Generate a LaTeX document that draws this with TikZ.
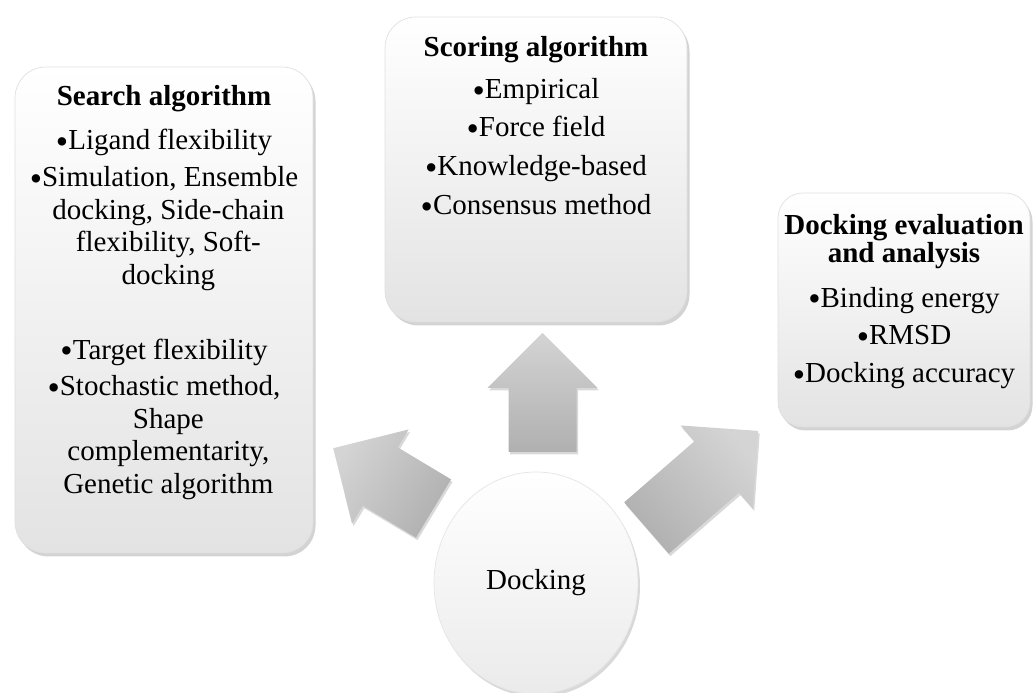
\documentclass[tikz,border=0pt]{standalone}
\usepackage{fontspec}
\setmainfont{Liberation Serif}
\usetikzlibrary{positioning,shadows,shapes.geometric}
\newcommand{\bul}{\raisebox{-2.2pt}{\fontsize{20}{18.5}\selectfont\textbullet}}
\tikzset{
		box/.style={
			rectangle,
			rounded corners=0.62cm,
			draw=black!12,
			top color=white,
			bottom color=black!11,
			drop shadow={opacity=0.35, shadow xshift=0.05cm, shadow yshift=-0.07cm},
			inner sep=0pt},
		boxtext/.style={
			align=center,
			inner sep=0pt,
			font=\fontsize{16.5}{18.5}\selectfont},
		docknode/.style={
			ellipse,
			minimum width=4.08cm,
			minimum height=4.44cm,
			draw=black!10,
			top color=white,
			bottom color=black!8,
			drop shadow={opacity=0.3, shadow xshift=0.04cm, shadow yshift=-0.06cm},
			font=\fontsize{16.5}{18.5}\selectfont},
		blockarr/.style={
			top color=black!17,
			bottom color=black!31,
			draw=none,
			drop shadow={opacity=0.3, shadow xshift=0.03cm, shadow yshift=-0.05cm}},
	}
\begin{document}
\begin{tikzpicture}
	\useasboundingbox (0,0) rectangle (20.66,13.86);
	
	%% boxes
	\node[box, minimum width=5.96cm, minimum height=9.72cm] (search) at (3.28,7.66) {};
	\node[box, minimum width=6.04cm, minimum height=6.10cm] (scoring) at (10.72,10.47) {};
	\node[box, minimum width=5.04cm, minimum height=4.68cm, rounded corners=0.5cm] (evaluation) at (18.08,7.66) {};
	
	\node[boxtext, below=0.36cm of search.north] (searchtxt) {\textbf{Search algorithm}\\[7pt]
		\bul Ligand flexibility\\[2.5pt]
		\bul Simulation, Ensemble\\
		\hspace{0.3em}docking, Side-chain\\ \hspace{0.3em}flexibility, Soft-\\ \hspace{0.3em}docking\\[24pt]
		\bul Target flexibility\\[2.5pt]
		\bul Stochastic method,\\ \hspace{0.3em}Shape\\ \hspace{0.3em}complementarity,\\ \hspace{0.3em}Genetic algorithm};
	
	\node[boxtext, below=0.38cm of scoring.north] (scoringtxt) {\textbf{Scoring algorithm}\\[5.5pt]
		\bul Empirical\\[3.5pt]
		\bul Force field\\[3.5pt]
		\bul Knowledge-based\\[3.5pt]
		\bul Consensus method};
	
	\node[boxtext, below=0.42cm of evaluation.north] (evaluationtxt) {\textbf{Docking evaluation}\\[-2.5pt]
		\textbf{and analysis}\\[7pt]
		\bul Binding energy\\[3pt]
		\bul RMSD\\[3pt]
		\bul Docking accuracy};
	
	%% centre
	\node[docknode] (dock) at (10.72,2.20) {Docking};
	
	%% block arrows
	\begin{scope}[shift={(10.85,4.82)}, rotate=90]
		\draw[blockarr] (0,-0.68) -- (1.28,-0.68) -- (1.28,-1.10) -- (2.38,0) -- (1.28,1.10) -- (1.28,0.68) -- (0,0.68) -- cycle;
	\end{scope}
	\begin{scope}[shift={(8.67,3.69)}, rotate=149]
		\draw[blockarr, shading angle=59] (0,-0.68) -- (1.24,-0.68) -- (1.24,-1.10) -- (2.34,0) -- (1.24,1.10) -- (1.24,0.68) -- (0,0.68) -- cycle;
	\end{scope}
	\begin{scope}[shift={(12.93,3.30)}, rotate=41]
		\draw[blockarr, shading angle=-49] (0,-0.68) -- (1.86,-0.68) -- (1.86,-1.10) -- (2.96,0) -- (1.86,1.10) -- (1.86,0.68) -- (0,0.68) -- cycle;
	\end{scope}
	
\end{tikzpicture}
\end{document}
